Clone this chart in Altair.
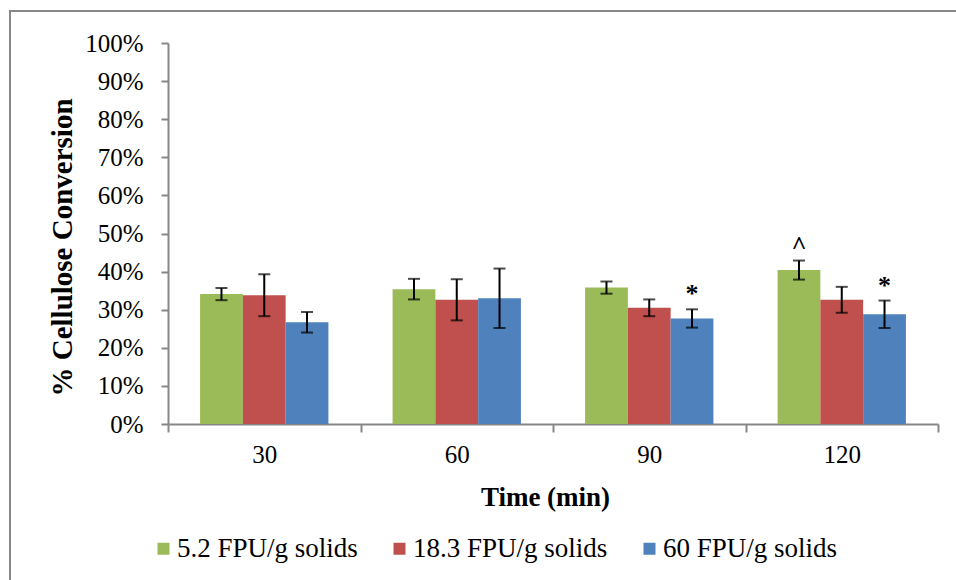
import altair as alt
import pandas as pd

times = ["30", "60", "90", "120"]
series = ["5.2 FPU/g solids", "18.3 FPU/g solids", "60 FPU/g solids"]
colors = ["#9BBB59", "#C0504D", "#4F81BD"]

green = [34.1, 35.4, 35.8, 40.4]
green_err = [1.6, 2.7, 1.6, 2.5]
red = [33.8, 32.6, 30.5, 32.6]
red_err = [5.5, 5.4, 2.2, 3.4]
blue = [26.7, 33.0, 27.7, 28.8]
blue_err = [2.7, 7.8, 2.4, 3.6]
green_mark = ["", "", "", "^"]
red_mark = ["", "", "", ""]
blue_mark = ["", "", "*", "*"]
y_ticks = [0, 10, 20, 30, 40, 50, 60, 70, 80, 90, 100]

rows = []
for s, vals, errs, marks in zip(series, [green, red, blue], [green_err, red_err, blue_err],
                                [green_mark, red_mark, blue_mark]):
    for t, v, e, m in zip(times, vals, errs, marks):
        rows.append({"time": t, "series": s, "value": v, "lo": v - e, "hi": v + e, "mark": m})
df = pd.DataFrame(rows)

FONT = "'Times New Roman', 'Liberation Serif', 'DejaVu Serif', serif"
AXC = "#878787"

x_axis = alt.Axis(title="Time (min)", labelAngle=0, tickBand="extent",
                  labelFont=FONT, labelFontSize=25, labelColor="#000",
                  labelPadding=10, tickSize=8, tickColor=AXC, tickWidth=2,
                  domainColor=AXC, domainWidth=2,
                  titleFont=FONT, titleFontSize=27, titleFontWeight="bold",
                  titleColor="#000", titleX=377, titleY=81,
                  titleBaseline="alphabetic", titleAlign="center")
y_axis = alt.Axis(title="% Cellulose Conversion", values=y_ticks, tickCount=11,
                  labelExpr="datum.value + '%'", grid=False, labelOverlap=False,
                  labelFont=FONT, labelFontSize=25, labelColor="#000",
                  labelPadding=18, tickSize=7, tickColor=AXC, tickWidth=2,
                  domainColor=AXC, domainWidth=2,
                  titleFont=FONT, titleFontSize=29, titleFontWeight="bold",
                  titleColor="#000", titleX=-106, titleY=204, titleAngle=270,
                  titleAlign="center", titleBaseline="middle")
y_scale = alt.Scale(domain=[0, 100], nice=False)

x_enc = alt.X("time:N", sort=times, scale=alt.Scale(paddingInner=0, paddingOuter=0),
              axis=x_axis)
xo_enc = alt.XOffset("series:N", sort=series,
                     scale=alt.Scale(paddingOuter=0.75, paddingInner=0))

def yq(field):
    return alt.Y(f"{field}:Q", scale=y_scale, axis=y_axis, title="% Cellulose Conversion")

base = alt.Chart(df)

bars = base.mark_bar().encode(
    x=x_enc,
    xOffset=xo_enc,
    y=yq("value"),
    color=alt.Color("series:N", sort=series,
                    scale=alt.Scale(domain=series, range=colors),
                    legend=alt.Legend(title=None, orient="none", direction="horizontal",
                                      legendX=-18, legendY=492,
                                      symbolType="square", symbolSize=144,
                                      symbolStrokeWidth=0, labelFont=FONT,
                                      labelFontSize=27, labelColor="#000", labelLimit=0,
                                      labelOffset=0, columnPadding=28)),
)

rules = base.mark_rule(color="#000", strokeWidth=2).encode(
    x=x_enc, xOffset=xo_enc, y=yq("lo"), y2="hi:Q")
tick_lo = base.mark_tick(color="#000", thickness=2, size=12, orient="horizontal").encode(
    x=x_enc, xOffset=xo_enc, y=yq("lo"))
tick_hi = base.mark_tick(color="#000", thickness=2, size=12, orient="horizontal").encode(
    x=x_enc, xOffset=xo_enc, y=yq("hi"))
labels = base.mark_text(font=FONT, fontSize=26, fontWeight="bold", color="#000",
                        baseline="alphabetic", dy=-7).encode(
    x=x_enc, xOffset=xo_enc, y=yq("hi"), text="mark:N")

border_top = alt.Chart(df).mark_rule(color="#888", strokeWidth=2).encode(
    x=alt.value(-159), x2=alt.value(800), y=alt.value(-32))
border_left = alt.Chart(df).mark_rule(color="#888", strokeWidth=2).encode(
    x=alt.value(-158), y=alt.value(-33), y2=alt.value(545))

chart = alt.layer(bars, rules, tick_lo, tick_hi, labels, border_top, border_left).properties(
    width=770, height=381,
    padding={"left": 168, "top": 43, "right": 18, "bottom": 156},
    autosize=alt.AutoSizeParams(type="none"),
).configure(background="white").configure_view(strokeWidth=0, stroke="transparent")

chart.save("out.html", embed_options={"renderer": "svg", "actions": False})
